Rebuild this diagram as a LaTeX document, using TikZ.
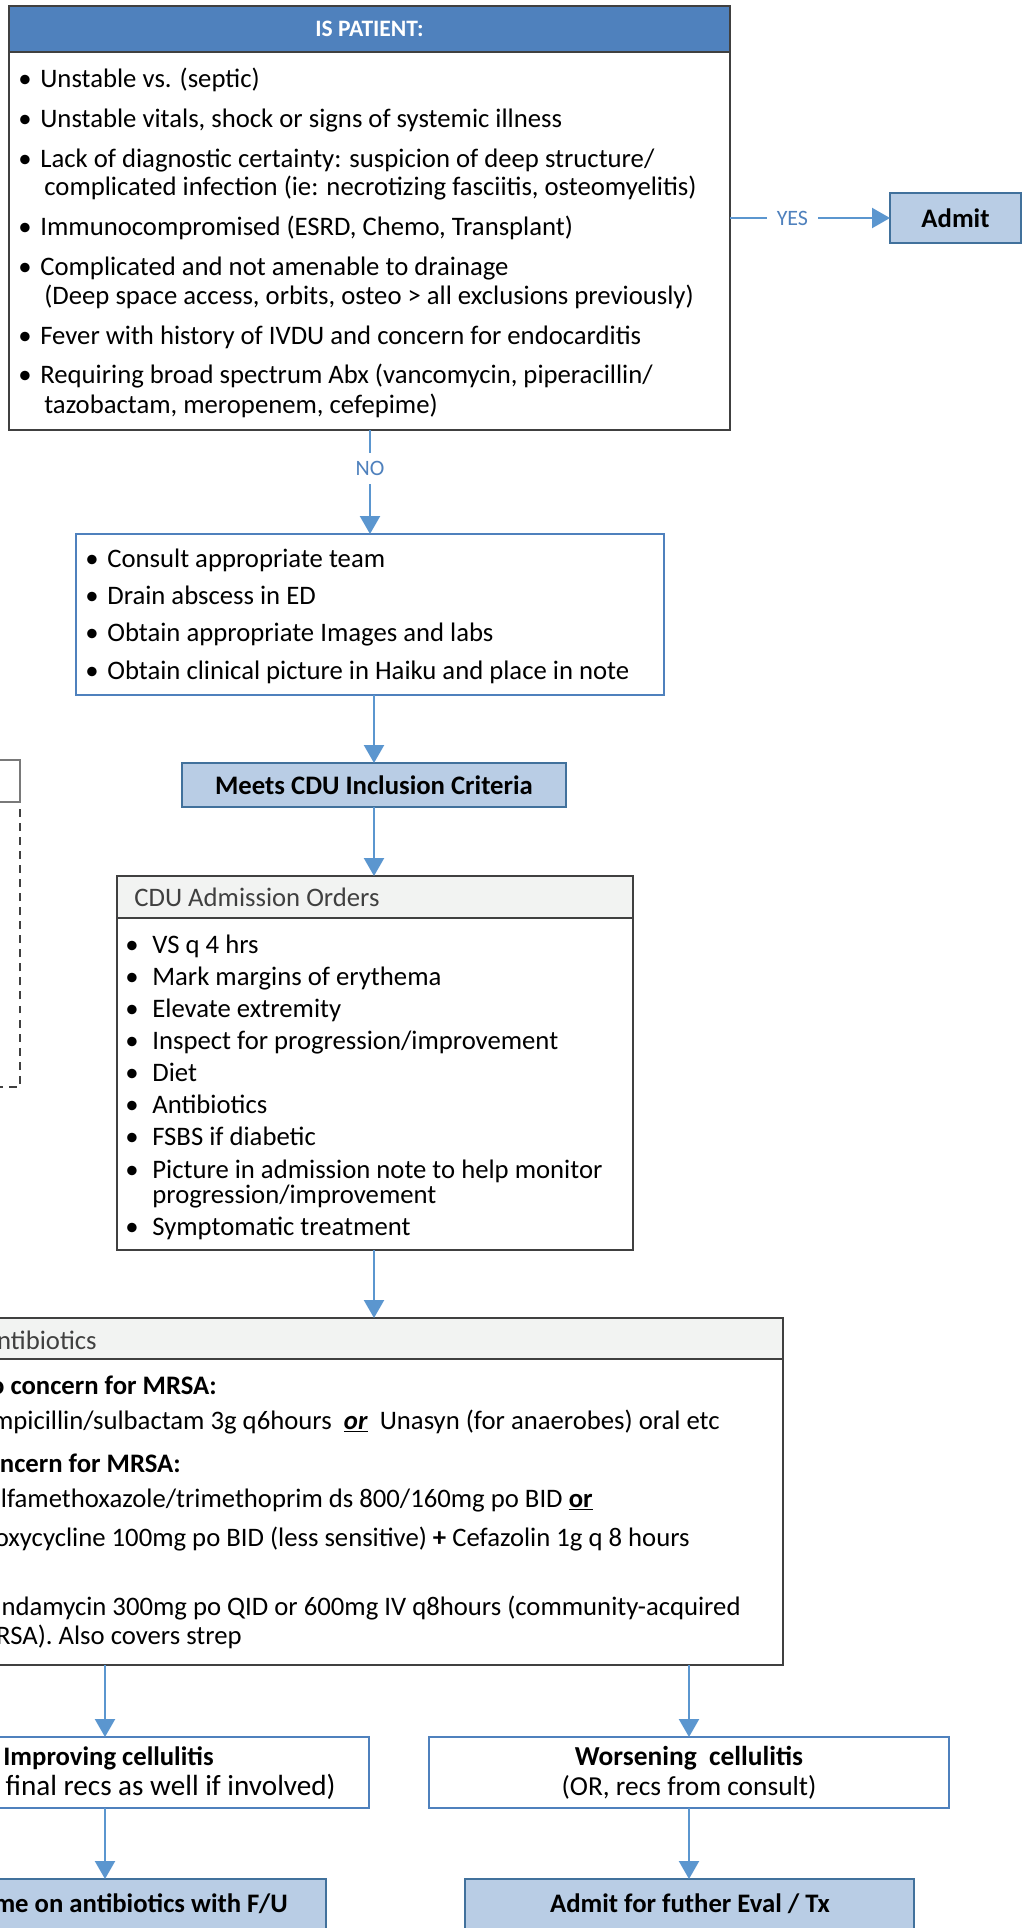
\documentclass[tikz,border=0pt]{standalone}
\usepackage{fontspec}
\setmainfont{Carlito}
\usetikzlibrary{arrows.meta}
\definecolor{hdblue}{RGB}{79,129,189}
\definecolor{fillblue}{RGB}{185,205,229}
\definecolor{edgeblue}{RGB}{65,113,156}
\definecolor{lineblue}{RGB}{91,150,207}
\definecolor{boxgray}{RGB}{64,64,64}
\definecolor{headgray}{RGB}{242,243,242}
\tikzset{
  wh/.style 2 args={minimum width=#1*0.02cm, minimum height=#2*0.02cm, inner sep=0pt, outer sep=0pt},
  graybox/.style={draw=boxgray, line width=0.9pt},
  bluebox/.style={draw=hdblue, line width=0.9pt},
  resultbox/.style={draw=edgeblue, fill=fillblue, line width=1pt, font=\fontsize{15.2}{18}\selectfont\bfseries},
  txt/.style={anchor=base west, inner sep=0pt, font=\fontsize{15.2}{18}\selectfont},
  btxt/.style={txt, font=\fontsize{15.2}{18}\selectfont\bfseries},
  rtxt/.style={txt, anchor=base east},
  dot/.style={txt, anchor=base},
  arr/.style={draw=lineblue, line width=1.3pt, -{Triangle[length=0.36cm, width=0.4cm]}},
  lbl/.style={fill=white, text=hdblue, font=\fontsize{12.5}{15}\selectfont, inner xsep=5.5pt, inner ysep=4.5pt},
}
\begin{document}
\begin{tikzpicture}[x=0.02cm, y=-0.02cm]
      \useasboundingbox (0,0) rectangle (1027,1928);
      \clip (0,0) rectangle (1027,1928);

      \node[graybox, fill=hdblue, wh={721}{46}, text=white, font=\fontsize{13.4}{16}\selectfont\bfseries] (patHead) at (369.5,29) {IS PATIENT:};
      \node[graybox, wh={721}{378}] (pat) at (369.5,241) {};
      \foreach \yy [count=\i] in {87,127,167,235,275,344,383}
        \node[dot] (pd\i) at (25,\yy) {\textbullet};
      \foreach \xx/\yy/\itm [count=\i] in {
          40/87/{Unstable vs. (septic)},
          40/127/{Unstable vitals, shock or signs of systemic illness},
          40/167/{Lack of diagnostic certainty: suspicion of deep structure/},
          44/195/{complicated infection (ie: necrotizing fasciitis, osteomyelitis)},
          40/235/{Immunocompromised (ESRD, Chemo, Transplant)},
          40/275/{Complicated and not amenable to drainage},
          44/304/{(Deep space access, orbits, osteo > all exclusions previously)},
          40/344/{Fever with history of IVDU and concern for endocarditis},
          40/383/{Requiring broad spectrum Abx (vancomycin, piperacillin/},
          44/413/{tazobactam, meropenem, cefepime)}}
        \node[txt] (pt\i) at (\xx,\yy) {\itm};

      \node[resultbox, wh={131}{50}] (admit) at (955.5,218) {Admit};

      \node[bluebox, wh={588}{161}] (consult) at (370,614.5) {};
      \foreach \yy/\itm [count=\i] in {
          567/{Consult appropriate team},
          604/{Drain abscess in ED},
          641/{Obtain appropriate Images and labs},
          679/{Obtain clinical picture in Haiku and place in note}} {
        \node[dot] (cd\i) at (92,\yy) {\textbullet};
        \node[txt] (ct\i) at (107,\yy) {\itm};
      }

      \node[resultbox, wh={384}{44}] (meets) at (374,785) {Meets CDU Inclusion Criteria};

      \node[graybox, fill=headgray, wh={516}{42}] (ordersHead) at (375,897) {};
      \node[txt, text=boxgray] (ordersTitle) at (134,906) {CDU Admission Orders};
      \node[graybox, wh={516}{332}] (orders) at (375,1084) {};
      \foreach \yy [count=\i] in {953,985,1017,1049,1081,1113,1145,1178,1235}
        \node[dot] (od\i) at (132,\yy) {\textbullet};
      \foreach \yy/\itm [count=\i] in {
          953/{VS q 4 hrs},
          985/{Mark margins of erythema},
          1017/{Elevate extremity},
          1049/{Inspect for progression/improvement},
          1081/{Diet},
          1113/{Antibiotics},
          1145/{FSBS if diabetic},
          1178/{Picture in admission note to help monitor},
          1203/{progression/improvement},
          1235/{Symptomatic treatment}}
        \node[txt] (ot\i) at (152,\yy) {\itm};

      \node[graybox, dashed, dash pattern=on 4.5pt off 3.5pt, wh={320}{285}] (side) at (-140,944.5) {};
      \node[graybox, draw=boxgray!70, wh={320}{42}] (sideHead) at (-140,781) {};

      \node[graybox, fill=headgray, wh={828}{41}] (abxHead) at (369,1338.5) {};
      \node[rtxt, text=boxgray] (abxTitle) at (97,1349) {Antibiotics};
      \node[graybox, wh={828}{306}] (abx) at (369,1512) {};
      \foreach \xx/\yy/\itm [count=\i] in {
          217/1394/{\textbf{No concern for MRSA:}},
          720/1429/{Ampicillin/sulbactam 3g q6hours\ \ \underline{\textbf{\textit{or}}}\ \ Unasyn (for anaerobes) oral etc},
          181/1472/{\textbf{Concern for MRSA:}},
          593/1507/{Sulfamethoxazole/trimethoprim ds 800/160mg po BID \underline{\textbf{or}}},
          690/1546/{Doxycycline 100mg po BID (less sensitive) \textbf{+} Cefazolin 1g q 8 hours},
          741/1615/{Clindamycin 300mg po QID or 600mg IV q8hours (community-acquired},
          242/1644/{MRSA). Also covers strep}}
        \node[rtxt] (at\i) at (\xx,\yy) {\itm};

      \node[bluebox, wh={528}{71}] (improving) at (105,1772.5) {};
      \node[btxt, anchor=base east] (impTitle) at (214,1765) {Improving cellulitis};
      \node[rtxt, font=\fontsize{16.6}{19}\selectfont] (impNote) at (336,1795) {(Consultant final recs as well if involved)};
      \node[bluebox, wh={520}{71}, align=center, font=\fontsize{15.6}{17}\selectfont] (worsening) at (689,1772.5)
        {\textbf{Worsening\ \ cellulitis}\\(OR, recs from consult)};

      \node[resultbox, wh={442}{80}] (home) at (105,1919) {};
      \node[btxt, anchor=base east] (homeText) at (288,1912) {Discharge home on antibiotics with F/U};
      \node[resultbox, wh={449}{80}] (admitTx) at (689.5,1919) {};
      \node[btxt, anchor=base] (admitTxText) at (690,1912) {Admit for futher Eval / Tx};

      \begin{scope}[arr]
        \draw (pat.east |- admit.west) -- node[lbl, pos=0.39] (yes) {YES} (admit.west);
        \draw (consult.north |- pat.south) -- node[lbl, pos=0.37] (no) {NO} (consult.north);
        \draw (meets.north |- consult.south) -- (meets.north);
        \draw (meets.south) -- (meets.south |- ordersHead.north);
        \draw (meets.south |- orders.south) -- (meets.south |- abxHead.north);
        \draw (improving.north |- abx.south) -- (improving.north);
        \draw (worsening.north |- abx.south) -- (worsening.north);
        \draw (improving.south) -- (improving.south |- home.north);
        \draw (worsening.south) -- (worsening.south |- admitTx.north);
      \end{scope}
    \end{tikzpicture}
\end{document}
